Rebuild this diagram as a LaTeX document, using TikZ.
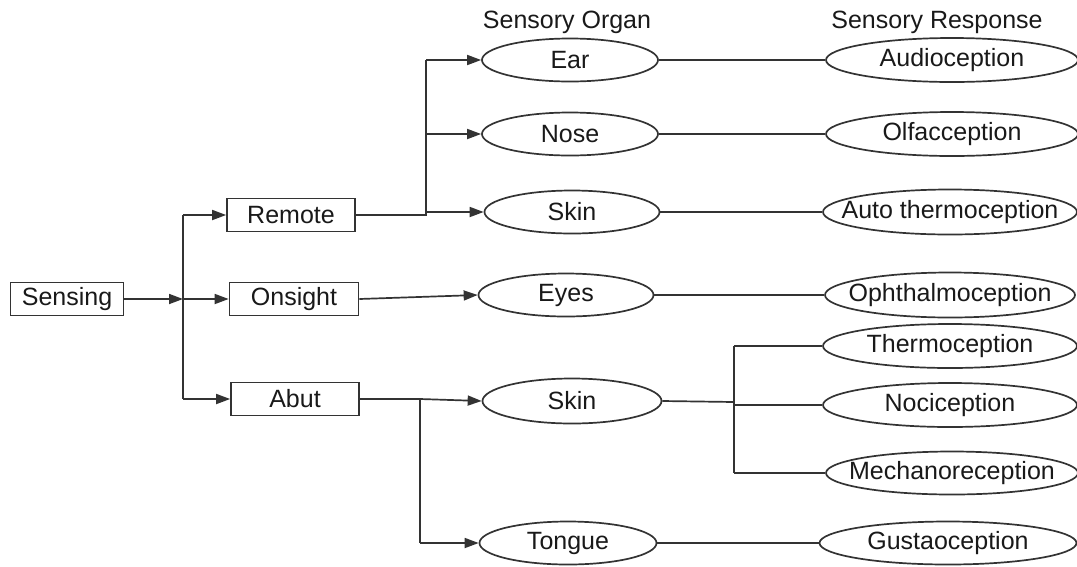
\documentclass[tikz,border=0pt]{standalone}
\usepackage{fontspec}
\setmainfont{Liberation Sans}
\usetikzlibrary{shapes.geometric,arrows.meta}
\begin{document}
\begin{tikzpicture}[x=1pt,y=-1pt,
  every node/.style={font=\fontsize{25}{29}\selectfont, text=black!90},
  rbox/.style={draw=black!80, line width=1.7pt, rectangle, inner sep=0pt, minimum height=33pt},
  organ/.style={draw=black!80, line width=1.7pt, ellipse, inner xsep=-30pt, inner ysep=0pt, minimum width=176pt, minimum height=43pt},
  resp/.style={draw=black!80, line width=1.7pt, ellipse, inner xsep=-60pt, inner ysep=0pt, minimum width=252pt, minimum height=44pt},
  conn/.style={draw=black!80, line width=1.7pt},
  arr/.style={conn, -{Triangle[length=14pt,width=10pt]}},
  hdr/.style={inner sep=0pt}
]
\useasboundingbox (0,0) rectangle (1077,566);
% left column
\node[rbox, minimum width=113pt] (sensing) at (67,299) {Sensing};
\node[rbox, minimum width=128pt] (remote) at (291,215) {Remote};
\node[rbox, minimum width=129pt] (onsight) at (294,299) {Onsight};
\node[rbox, minimum width=128pt] (abut) at (295,399) {Abut};
% organs
\node[hdr] (horg) at (567,22) {Sensory Organ};
\node[organ] (ear) at (570,60) {Ear};
\node[organ] (nose) at (570,134) {Nose};
\node[organ, minimum width=175pt] (skinr) at (572,212) {Skin};
\node[organ, minimum width=175pt] (eyes) at (566,295) {Eyes};
\node[organ, minimum width=179pt, minimum height=45pt] (skina) at (572,401) {Skin};
\node[organ, minimum width=177pt] (tongue) at (568,543) {Tongue};
% responses
\node[hdr] (hresp) at (937,22) {Sensory Response};
\node[resp] (audio) at (952,60) {Audioception};
\node[resp] (olf) at (952,134) {Olfacception};
\node[resp, minimum width=254pt, minimum height=45pt] (autot) at (950,212) {Auto thermoception};
\node[resp, minimum width=250pt, minimum height=45pt] (oph) at (950,295) {Ophthalmoception};
\node[resp, minimum width=254pt] (thermo) at (950,346) {Thermoception};
\node[resp, minimum width=254pt] (noci) at (950,405) {Nociception};
\node[resp, minimum width=252pt, minimum height=43pt] (mech) at (952,473) {Mechanoreception};
\node[resp, minimum width=257pt, minimum height=43pt] (gust) at (948,543) {Gustaoception};
% junction coordinates
\coordinate (j1) at (183,299);
\coordinate (j2) at (426,212);
\coordinate (j3) at (420,399);
\coordinate (j4) at (734,402);
% Sensing -> level 1
\draw[arr] (sensing.east) -- (j1);
\draw[conn] (j1 |- remote.west) -- (j1 |- abut.west);
\draw[arr] (j1 |- remote.west) -- (remote.west);
\draw[arr] (j1) -- (onsight.west);
\draw[arr] (j1 |- abut.west) -- (abut.west);
% Remote -> organs
\draw[conn] (remote.east) -- (remote.east -| j2) -- (j2);
\draw[conn] (j2 |- ear.west) -- (j2 |- skinr.west);
\draw[arr] (j2 |- ear.west) -- (ear.west);
\draw[arr] (j2 |- nose.west) -- (nose.west);
\draw[arr] (j2 |- skinr.west) -- (skinr.west);
% Onsight -> Eyes
\draw[arr] (onsight.east) -- (eyes.west);
% Abut -> organs
\draw[conn] (abut.east) -- (j3);
\draw[conn] (j3) -- (j3 |- tongue.west);
\draw[arr] (j3) -- (skina.west);
\draw[arr] (j3 |- tongue.west) -- (tongue.west);
% organs -> responses
\draw[conn] (ear.east) -- (audio.west);
\draw[conn] (nose.east) -- (olf.west);
\draw[conn] (skinr.east) -- (autot.west);
\draw[conn] (eyes.east) -- (oph.west);
\draw[conn] (tongue.east) -- (gust.west);
\draw[conn] (skina.east) -- (j4);
\draw[conn] (j4 |- thermo.west) -- (j4 |- mech.west);
\draw[conn] (j4 |- thermo.west) -- (thermo.west);
\draw[conn] (j4 |- noci.west) -- (noci.west);
\draw[conn] (j4 |- mech.west) -- (mech.west);
\end{tikzpicture}
\end{document}
